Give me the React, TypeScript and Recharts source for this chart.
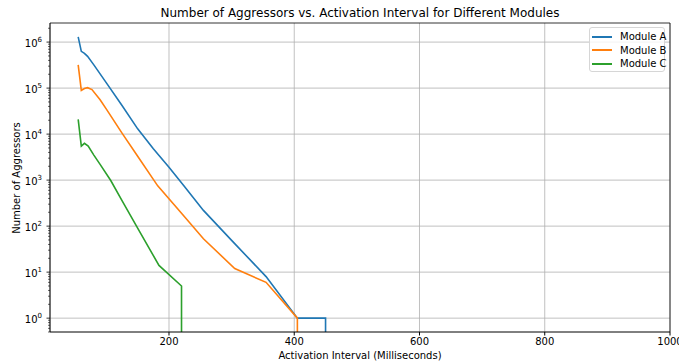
import { LineChart, Line, XAxis, YAxis, CartesianGrid, ReferenceLine } from 'recharts';

// Module A
const moduleAX = [55, 60, 65, 70, 80, 100, 125, 150, 175, 200, 225, 255, 300, 355, 405, 450, 450];
const moduleAY = [1.3e6, 6.3e5, 5.7e5, 4.9e5, 3.2e5, 1.3e5, 4.2e4, 1.3e4, 4.8e3, 1.9e3, 7.2e2, 2.2e2, 49, 8, 1, 1, 0];

// Module B
const moduleBX = [55, 60, 65, 70, 77, 90, 100, 125, 150, 182, 220, 255, 305, 355, 405, 405];
const moduleBY = [3.2e5, 8.9e4, 9.8e4, 1.02e5, 9.3e4, 5.6e4, 3.5e4, 1.05e4, 3.3e3, 7.5e2, 1.9e2, 53, 12, 6, 1, 0];

// Module C
const moduleCX = [55, 60, 65, 71, 80, 90, 107, 125, 152, 184, 220, 220];
const moduleCY = [2.1e4, 5.5e3, 6.3e3, 5.5e3, 3.5e3, 2.2e3, 9.8e2, 3.6e2, 81, 14, 5, 0];

const xTicks = [200, 400, 600, 800, 1000];
const yMajor = [1, 10, 100, 1e3, 1e4, 1e5, 1e6];

const X_DOMAIN: [number, number] = [10, 1000];
const Y_DOMAIN: [number, number] = [0.5, 2.6e6];

// minor log ticks (2..9 x 10^n) inside the y range
const yMinor: number[] = [];
for (let e = -1; e <= 6; e++) {
  for (let m = 2; m <= 9; m++) {
    const v = m * Math.pow(10, e);
    if (v >= Y_DOMAIN[0] && v <= Y_DOMAIN[1]) yMinor.push(v);
  }
}
const yTicks = [...yMajor, ...yMinor].sort((a, b) => a - b);

// a log axis cannot show zero: zero is drawn just below the axis and clipped
const toPoints = (xs: number[], ys: number[]) => xs.map((x, i) => ({ x, y: ys[i] > 0 ? ys[i] : 0.01 }));

const series = [
  { name: 'Module A', color: '#1f77b4', data: toPoints(moduleAX, moduleAY) },
  { name: 'Module B', color: '#ff7f0e', data: toPoints(moduleBX, moduleBY) },
  { name: 'Module C', color: '#2ca02c', data: toPoints(moduleCX, moduleCY) },
];

const FONT = '"DejaVu Sans", sans-serif';

function LogTick(props: any) {
  const { x, y, payload } = props;
  const v = payload.value;
  const exp = Math.round(Math.log10(v));
  const isMajor = Math.abs(v / Math.pow(10, exp) - 1) < 1e-6;
  return (
    <g>
      <line x1={x - (isMajor ? 3.5 : 2)} x2={x} y1={y} y2={y} stroke="#000" strokeWidth={isMajor ? 0.8 : 0.6} />
      {isMajor && (
        <text x={x - 8} y={y + 4.5} textAnchor="end" fontFamily={FONT} fontSize={10} fill="#000">
          10<tspan dy={-5} fontSize={7}>{exp}</tspan>
        </text>
      )}
    </g>
  );
}

export default function App() {
  return (
    <div style={{ position: 'absolute', left: 0, top: 0, width: 679, height: 363, background: '#fff', fontFamily: FONT }}>
      <LineChart width={679} height={363} margin={{ top: 23, right: 9, bottom: 0, left: 0 }}>
        <CartesianGrid horizontal={false} stroke="#b0b0b0" strokeWidth={0.8} />
        {yMajor.map((v) => (
          <ReferenceLine key={v} y={v} stroke="#b0b0b0" strokeWidth={0.8} />
        ))}
        {/* top and right spines */}
        <ReferenceLine y={Y_DOMAIN[1]} stroke="#000" strokeWidth={0.8} />
        <ReferenceLine x={X_DOMAIN[1]} stroke="#000" strokeWidth={0.8} />
        <XAxis
          dataKey="x"
          type="number"
          domain={X_DOMAIN}
          allowDataOverflow
          ticks={xTicks}
          interval={0}
          height={31}
          tickSize={3.5}
          tickMargin={2}
          stroke="#000"
          tick={{ fontFamily: FONT, fontSize: 10, fill: '#000' }}
        />
        <YAxis
          type="number"
          scale="log"
          domain={Y_DOMAIN}
          allowDataOverflow
          ticks={yTicks}
          interval={0}
          width={50}
          tickLine={false}
          tickSize={0}
          tickMargin={0}
          stroke="#000"
          tick={(p: any) => <LogTick {...p} />}
        />
        {series.map((s) => (
          <Line
            key={s.name}
            data={s.data}
            dataKey="y"
            name={s.name}
            type="linear"
            stroke={s.color}
            strokeWidth={1.6}
            dot={false}
            isAnimationActive={false}
          />
        ))}
      </LineChart>

      <div style={{ position: 'absolute', left: 50, width: 620, top: 6, textAlign: 'center', fontSize: 12, lineHeight: '14px', color: '#000' }}>
        Number of Aggressors vs. Activation Interval for Different Modules
      </div>
      <div style={{ position: 'absolute', left: 50, width: 620, top: 350, textAlign: 'center', fontSize: 10, lineHeight: '12px', color: '#000' }}>
        Activation Interval (Milliseconds)
      </div>
      <div
        style={{
          position: 'absolute',
          left: 17,
          top: 178,
          transform: 'translate(-50%, -50%) rotate(-90deg)',
          whiteSpace: 'nowrap',
          fontSize: 10,
          lineHeight: '12px',
          color: '#000',
        }}
      >
        Number of Aggressors
      </div>

      <div
        style={{
          position: 'absolute',
          left: 589,
          top: 27,
          width: 76,
          height: 45,
          boxSizing: 'border-box',
          border: '1px solid #d6d6d6',
          borderRadius: 3,
          background: 'rgba(255,255,255,0.8)',
          padding: '2px 0 0 2px',
        }}
      >
        {series.map((s) => (
          <div
            key={s.name}
            style={{ display: 'flex', alignItems: 'center', height: 13.5, fontSize: 10, color: '#000', whiteSpace: 'nowrap' }}
          >
            <span
              style={{ display: 'inline-block', flexShrink: 0, width: 20, height: 2, background: s.color, marginRight: 8 }}
            />
            {s.name}
          </div>
        ))}
      </div>
    </div>
  );
}
